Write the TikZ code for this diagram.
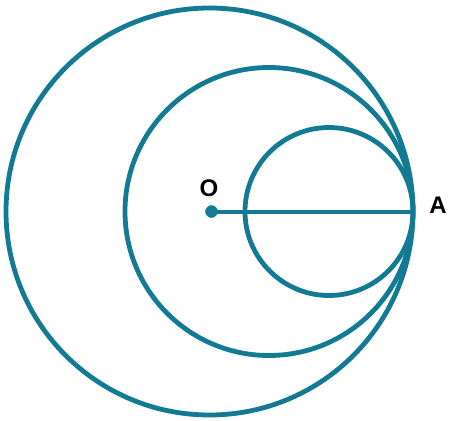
\documentclass[tikz,border=0pt]{standalone}
\usepackage{fontspec}
\setmainfont{Liberation Sans}
\usepackage{tikz}
\usetikzlibrary{calc}
\definecolor{teal}{RGB}{18,122,146}
\tikzset{>=latex}
\tikzset{ring/.style = {draw = teal, line width = 4.8pt}}
\tikzset{lbl/.style = {font = \fontsize{24}{24}\selectfont\bfseries}}

\begin{document}
\begin{tikzpicture}[x = 1pt, y = -1pt]
\useasboundingbox (0,0) rectangle (451,421);
\coordinate (O) at (211.5, 211.5);
\coordinate (A) at (413, 211.5);
\draw[ring] (209.5, 211.5) circle (203.5);
\draw[ring] (269, 211.5) circle (144);
\draw[ring] (329, 211.5) circle (84);
\draw[teal, line width = 4pt] (O) -- (A);
\draw[teal, fill = teal] (O) circle (6);
\node[lbl] (labO) at (209, 188) {O};
\node[lbl] (labA) at (438, 205) {A};
\end{tikzpicture}
\end{document}
